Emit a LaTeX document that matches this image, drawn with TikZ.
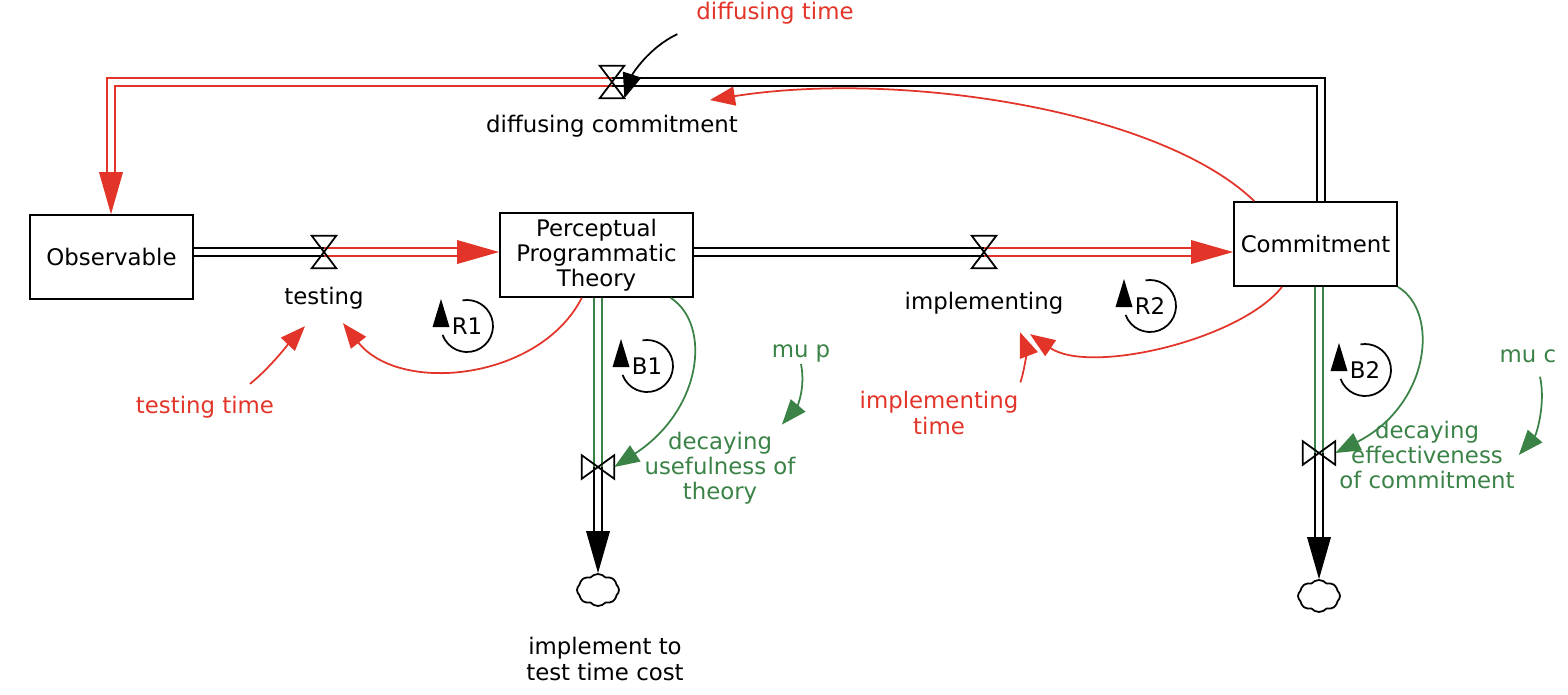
\documentclass[tikz,border=0pt]{standalone}
\usepackage{fontspec}
\setmainfont{DejaVu Sans}
\usetikzlibrary{arrows.meta,shapes.symbols}

\definecolor{sdred}{RGB}{226,52,40}
\definecolor{sdgreen}{RGB}{58,130,70}

\tikzset{
  stock/.style={draw, line width=1pt, align=center, inner sep=2pt},
  hvalve/.style={inner sep=0pt, minimum width=0.48cm, minimum height=0.64cm},
  vvalve/.style={inner sep=0pt, minimum width=0.64cm, minimum height=0.46cm},
  pipe/.style={draw=black, double=white, double distance=0.13cm, line width=0.9pt},
  infl/.style={line width=1pt, -{Triangle[length=0.5cm,width=0.38cm]}},
  lbl/.style={inner sep=1pt, align=center},
  sink/.style={cloud, draw, line width=1pt, cloud puffs=8, cloud puff arc=100,
    aspect=1.35, minimum width=0.84cm, minimum height=0.64cm, inner sep=0pt},
}

\begin{document}
\begin{tikzpicture}[x=0.02cm, y=-0.02cm, font=\fontsize{13}{14.4}\selectfont]
  \useasboundingbox (0,0) rectangle (1568,694);

  % stocks
  \node[stock, minimum width=3.26cm, minimum height=1.68cm] (obs) at (111.5,257) {Observable};
  \node[stock, minimum width=3.86cm, minimum height=1.68cm] (ppt) at (596.5,255) {Perceptual\\Programmatic\\Theory};
  \node[stock, minimum width=3.26cm, minimum height=1.68cm] (com) at (1315.5,244) {Commitment};

  % valves and sinks
  \node[hvalve] (diffuse) at (612,82) {};
  \node[hvalve] (testing) at (324,252) {};
  \node[hvalve] (implement) at (984,252) {};
  \node[vvalve] (pdecay) at (598,467) {};
  \node[vvalve] (cdecay) at (1319,453) {};
  \node[sink] (pcloud) at (598,590) {};
  \node[sink] (ccloud) at (1319,596) {};

  \coordinate (topright) at (1321,82);
  \coordinate (topleft) at (111,82);

  % pipes
  \draw[pipe] (com.north -| topright) -- (topright) -- (diffuse.center);
  \draw[pipe, draw=sdred, shorten >=0.84cm] (diffuse.center) -- (topleft) -- (obs.north -| topleft);
  \fill[sdred] (obs.north -| topleft) -- ++(-12,-42) -- ++(24,0) -- cycle;

  \draw[pipe] (obs.east |- testing) -- (testing.center);
  \draw[pipe, draw=sdred, shorten >=0.84cm] (testing.center) -- (ppt.west |- testing);
  \fill[sdred] (ppt.west |- testing) -- ++(-42,-12) -- ++(0,24) -- cycle;

  \draw[pipe] (ppt.east |- implement) -- (implement.center);
  \draw[pipe, draw=sdred, shorten >=0.84cm] (implement.center) -- (com.west |- implement);
  \fill[sdred] (com.west |- implement) -- ++(-42,-12) -- ++(0,24) -- cycle;

  \draw[pipe, draw=sdgreen] (ppt.south -| pdecay) -- (pdecay.center);
  \draw[pipe, shorten >=0.84cm] (pdecay.center) -- (pdecay |- pcloud.north);
  \fill (pdecay |- pcloud.north) -- ++(-12,-42) -- ++(24,0) -- cycle;

  \draw[pipe, draw=sdgreen] (com.south -| cdecay) -- (cdecay.center);
  \draw[pipe, shorten >=0.84cm] (cdecay.center) -- (cdecay |- ccloud.north);
  \fill (cdecay |- ccloud.north) -- ++(-12,-42) -- ++(24,0) -- cycle;

  \foreach \v in {diffuse,testing,implement}
    \draw[line width=1pt] (\v.north west) -- (\v.north east) -- (\v.south west) -- (\v.south east) -- cycle;
  \foreach \v in {pdecay,cdecay}
    \draw[line width=1pt] (\v.north west) -- (\v.south west) -- (\v.north east) -- (\v.south east) -- cycle;

  % labels
  \node[lbl] (difflab) at (612,126) {diffusing commitment};
  \node[lbl] (testlab) at (324,298) {testing};
  \node[lbl] (implab) at (984,303) {implementing};
  \node[lbl] (costlab) at (605,659) {implement to\\test time cost};
  \node[lbl, text=sdred] (dtime) at (775,13) {diffusing time};
  \node[lbl, text=sdred] (ttime) at (205,407) {testing time};
  \node[lbl, text=sdred] (imptime) at (939,413) {implementing\\time};
  \node[lbl, text=sdgreen] (mup) at (801,353) {mu p};
  \node[lbl, text=sdgreen] (muc) at (1528,356) {mu c};
  \node[lbl, text=sdgreen] (pdlab) at (720,468) {decaying\\usefulness of\\theory};
  \node[lbl, text=sdgreen] (cdlab) at (1427,455) {decaying\\effectiveness\\of commitment};

  % links
  \draw[infl] ([xshift=-0.34cm,yshift=-0.16cm]dtime.south west) .. controls (648,48) and (632,75) .. (diffuse.south east);
  \draw[infl, sdred] (com.145) .. controls (1160,110) and (900,70) .. ([xshift=1.96cm,yshift=-0.36cm]diffuse.center);
  \draw[infl, sdred] (ppt.251) .. controls (540,380) and (400,395) .. ([xshift=0.38cm,yshift=-0.24cm]testlab.south);
  \draw[infl, sdred] ([xshift=0.9cm,yshift=0.2cm]ttime.north) .. controls (270,368) and (290,342) .. ([xshift=-0.38cm,yshift=-0.3cm]testlab.south);
  \draw[infl, sdred] (com.232) .. controls (1240,340) and (1090,375) .. ([xshift=0.92cm,yshift=-0.36cm]implab.south);
  \draw[infl, sdred] ([yshift=0.14cm]imptime.north east) .. controls (1026,365) and (1026,348) .. ([xshift=0.72cm,yshift=-0.32cm]implab.south);
  \draw[infl, sdgreen] (ppt.330) .. controls (712,325) and (702,410) .. (pdecay.east);
  \draw[infl, sdgreen] (mup.south) .. controls (806,390) and (796,408) .. ([xshift=1.24cm,yshift=0.1cm]pdlab.north);
  \draw[infl, sdgreen] (com.south east) .. controls (1440,312) and (1430,405) .. (cdecay.east);
  \draw[infl, sdgreen] ([xshift=0.24cm,yshift=-0.24cm]muc.south) .. controls (1546,405) and (1536,435) .. ([xshift=0.04cm]cdlab.east);

  % loops
  \foreach \lp/\pos in {R1/{467,326}, B1/{647,366}, R2/{1150,306}, B2/{1365,370}} {
    \node[lbl] (\lp) at (\pos) {\lp};
    \draw[line width=1pt] (\lp.center) ++(200:0.52cm) arc[start angle=200, end angle=460, radius=0.52cm];
    \fill (\lp.center) ++(-0.69cm,-0.02cm) -- ++(0.17cm,0.56cm) -- ++(0.17cm,-0.56cm) -- cycle;
  }
\end{tikzpicture}
\end{document}
